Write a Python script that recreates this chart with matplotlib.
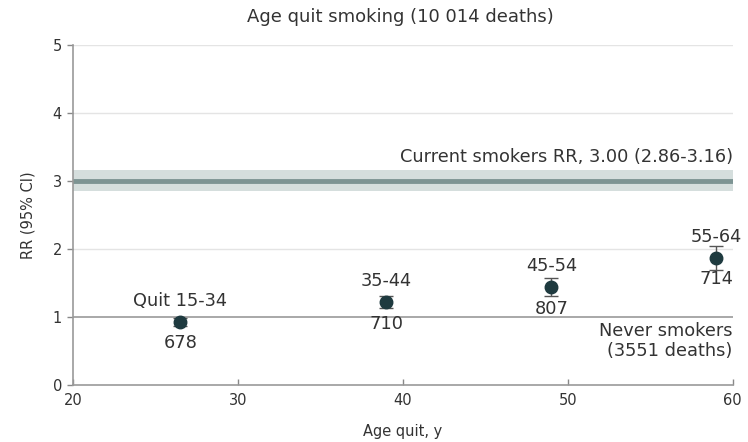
import matplotlib
matplotlib.use("Agg")
import matplotlib.pyplot as plt

# Relative risk of death by age at smoking cessation
age_groups = ["Quit 15-34", "35-44", "45-54", "55-64"]
age_quit = [26.5, 39, 49, 59]
rr = [0.93, 1.22, 1.44, 1.87]
rr_low = [0.87, 1.13, 1.31, 1.69]
rr_high = [0.99, 1.31, 1.57, 2.05]
deaths = ["678", "710", "807", "714"]

current_rr = 3.00
current_low = 2.86
current_high = 3.16

x_ticks = [20, 30, 40, 50, 60]
y_ticks = [0, 1, 2, 3, 4, 5]

plt.rcParams["font.family"] = ["DejaVu Sans"]
text_color = "#333333"
dot_color = "#1e3a3f"
note_size = 12.8

fig = plt.figure(figsize=(7.48, 4.42), dpi=100)
ax = fig.add_axes([0.0976, 0.129, 0.882, 0.769])

ax.set_xlim(20, 60)
ax.set_ylim(0, 5)

# light reference grid
for y in [2, 4, 5]:
    ax.axhline(y, color="#e4e4e4", lw=1.0, zorder=0)
ax.axhline(1, color="#9a9a9a", lw=1.2, zorder=1)

# current smokers band
ax.axhspan(current_low, current_high, color="#d5dedd", zorder=1, lw=0)
ax.axhline(current_rr, color="#7d9493", lw=3.5, zorder=2)
ax.text(60, current_high + 0.06, "Current smokers RR, 3.00 (2.86-3.16)",
        ha="right", va="bottom", fontsize=note_size, color=text_color)

ax.text(60, 0.92, "Never smokers\n(3551 deaths)", ha="right", va="top",
        fontsize=note_size, color=text_color, linespacing=1.1)

yerr = [[r - l for r, l in zip(rr, rr_low)], [h - r for r, h in zip(rr, rr_high)]]
ax.errorbar(age_quit, rr, yerr=yerr, fmt="o", color=dot_color, ms=9,
            ecolor="#555555", elinewidth=1, capsize=5, capthick=1, zorder=4)

for x, r, g, d in zip(age_quit, rr, age_groups, deaths):
    ax.annotate(g, (x, r), xytext=(0, 15), textcoords="offset points",
                ha="center", va="center", fontsize=note_size, color=text_color)
    ax.annotate(d, (x, r), xytext=(0, -15.5), textcoords="offset points",
                ha="center", va="center", fontsize=note_size, color=text_color)

ax.set_xticks(x_ticks)
ax.set_yticks(y_ticks)
ax.tick_params(axis="both", labelsize=10.5, colors="#888888", labelcolor=text_color,
               length=4, width=1)
ax.tick_params(axis="y", direction="out", pad=4)
ax.tick_params(axis="x", direction="in", pad=6)

for side in ["top", "right"]:
    ax.spines[side].set_visible(False)
for side in ["left", "bottom"]:
    ax.spines[side].set_color("#999999")
    ax.spines[side].set_linewidth(1.2)

ax.set_xlabel("Age quit, y", fontsize=10.5, color=text_color, labelpad=11)
ax.set_ylabel("RR (95% CI)", fontsize=10.5, color=text_color, labelpad=12)

fig.text(0.535, 0.962, "Age quit smoking (10 014 deaths)", ha="center",
         va="center", fontsize=13, color=text_color)

fig.savefig("out.png", dpi=100)
